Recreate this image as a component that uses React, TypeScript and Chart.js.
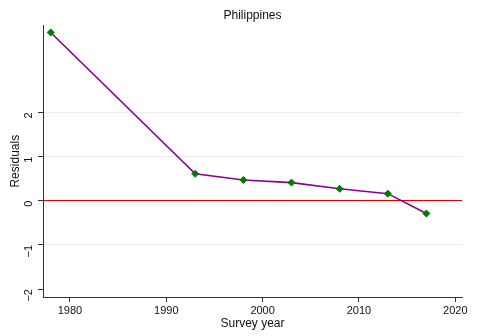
import React, { useEffect, useRef } from "react";
import { Chart, registerables } from "chart.js";

Chart.register(...registerables);

const years = [1978, 1993, 1998, 2003, 2008, 2013, 2017];
const residuals = [3.81, 0.61, 0.47, 0.41, 0.27, 0.16, -0.29];
const xTicks = [1980, 1990, 2000, 2010, 2020];
const yTicks = [-2, -1, 0, 1, 2];
const FONT = "'Liberation Sans', Arial, Helvetica, sans-serif";

export default function App() {
  const ref = useRef<HTMLCanvasElement | null>(null);
  useEffect(() => {
    document.body.style.margin = "0";
    const canvas = ref.current!;
    const chart = new Chart(canvas, {
      type: "line",
      data: {
        datasets: [
          {
            data: years.map((x, i) => ({ x, y: residuals[i] })),
            borderColor: "#8a008a",
            borderWidth: 1.6,
            pointStyle: "rectRot",
            pointRadius: 3.5,
            pointBackgroundColor: "#007a00",
            pointBorderColor: "#007a00",
            pointBorderWidth: 1,
            tension: 0,
          },
        ],
      },
      options: {
        animation: false,
        responsive: false,
        devicePixelRatio: 1,
        layout: { padding: { left: 0, right: 22, top: 0, bottom: 0 } },
        plugins: {
          legend: { display: false },
          tooltip: { enabled: false },
          title: {
            display: true,
            text: "Philippines",
            fullSize: false,
            color: "#111",
            font: { family: FONT, size: 12, weight: "normal" },
            padding: { top: 8, bottom: 3 },
          },
        },
        scales: {
          x: {
            type: "linear",
            min: 1977.2,
            max: 2020.7,
            afterBuildTicks: (s: any) => {
              s.ticks = xTicks.map((v) => ({ value: v }));
            },
            afterFit: (s: any) => {
              s.height = 39;
            },
            border: { color: "#333", width: 1 },
            grid: {
              drawOnChartArea: false,
              drawTicks: true,
              tickLength: 5,
              tickColor: "#333",
            },
            ticks: {
              color: "#111",
              font: { family: FONT, size: 11 },
              padding: 2,
              maxRotation: 0,
              minRotation: 0,
              callback: (v: any) => String(v),
            },
            title: {
              display: true,
              text: "Survey year",
              color: "#111",
              font: { family: FONT, size: 12 },
              padding: { top: 0, bottom: 5 },
            },
          },
          y: {
            type: "linear",
            min: -2.18,
            max: 3.97,
            afterBuildTicks: (s: any) => {
              s.ticks = yTicks.map((v) => ({ value: v }));
            },
            afterFit: (s: any) => {
              s.width = 43;
            },
            border: { color: "#333", width: 1 },
            grid: {
              drawTicks: true,
              tickLength: 5,
              tickColor: "#333",
              lineWidth: 1,
              color: (ctx: any) => {
                const v = ctx.tick ? ctx.tick.value : null;
                if (v === 0) return "#e00000";
                if (v === -2) return "rgba(0,0,0,0)";
                return "#e8f0f2";
              },
            },
            ticks: {
              color: "#111",
              font: { family: FONT, size: 11 },
              padding: 9,
              minRotation: 90,
              maxRotation: 90,
              callback: (v: any) => (Number(v) < 0 ? "\u2212" + Math.abs(Number(v)) : String(v)),
            },
            title: {
              display: true,
              text: "Residuals",
              color: "#111",
              font: { family: FONT, size: 12 },
              padding: { top: 8, bottom: 0 },
            },
          },
        },
      },
    } as any);
    return () => chart.destroy();
  }, []);
  return <canvas ref={ref} width={484} height={336} style={{ display: "block" }} />;
}
